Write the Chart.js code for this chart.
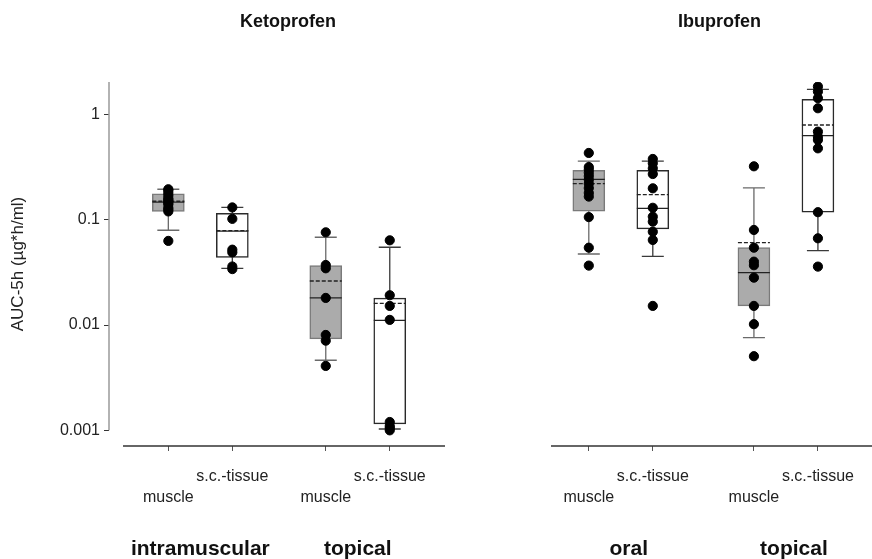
<!DOCTYPE html>
<html>
<head>
<meta charset="utf-8">
<script src="https://cdn.jsdelivr.net/npm/chart.js@4"></script>
<style>
  body { margin: 0; background: #fff; }
  canvas { display: block; }
</style>
</head>
<body>
<canvas id="auc" width="872" height="559"></canvas>
<script>
// AUC 0-5h, log scale. Boxes: quartiles, whiskers, median (solid), mean (dashed)

const DRUGS = ['Ketoprofen', 'Ibuprofen'];
const ROUTES = ['intramuscular', 'topical', 'oral', 'topical'];
const TISSUES = ['muscle', 's.c.-tissue', 'muscle', 's.c.-tissue', 'muscle', 's.c.-tissue', 'muscle', 's.c.-tissue'];

const Q1 = [0.120, 0.044, 0.0074, 0.00115, 0.121, 0.082, 0.0152, 0.118];
const Q3 = [0.176, 0.115, 0.0367, 0.0180, 0.295, 0.295, 0.0543, 1.39];
const MEDIAN = [0.147, 0.078, 0.0181, 0.0111, 0.242, 0.1285, 0.0315, 0.629];
const MEAN = [0.150, 0.079, 0.0262, 0.0161, 0.220, 0.173, 0.0606, 0.795];
const WHISKER_LO = [0.0795, 0.0346, 0.00463, 0.00103, 0.0473, 0.045, 0.0076, 0.0509];
const WHISKER_HI = [0.195, 0.131, 0.0682, 0.0548, 0.36, 0.36, 0.2005, 1.735];

const ketoImMuscle = [0.063, 0.12, 0.125, 0.13, 0.14, 0.145, 0.15, 0.155, 0.16, 0.17, 0.18, 0.19, 0.195];
const ketoImSc = [0.131, 0.102, 0.052, 0.049, 0.036, 0.034];
const ketoTopMuscle = [0.076, 0.0372, 0.0346, 0.0181, 0.00805, 0.00711, 0.00409];
const ketoTopSc = [0.0638, 0.0192, 0.0152, 0.0112, 0.0012, 0.0011, 0.00105, 0.001];
const ibuOralMuscle = [0.431, 0.317, 0.30, 0.28, 0.26, 0.24, 0.22, 0.20, 0.18, 0.166, 0.106, 0.0543, 0.0367];
const ibuOralSc = [0.378, 0.344, 0.308, 0.272, 0.199, 0.130, 0.107, 0.096, 0.077, 0.0643, 0.0152];
const ibuTopMuscle = [0.322, 0.080, 0.0543, 0.040, 0.037, 0.0282, 0.0152, 0.0102, 0.00506];
const ibuTopSc = [1.84, 1.65, 1.43, 1.146, 0.687, 0.615, 0.573, 0.477, 0.118, 0.0667, 0.0359];
const POINTS = [ketoImMuscle, ketoImSc, ketoTopMuscle, ketoTopSc, ibuOralMuscle, ibuOralSc, ibuTopMuscle, ibuTopSc];

const Y_TICKS = [1, 0.1, 0.01, 0.001];

// layout: slot of each box on the x scale, and the two broken x-axis pieces
const SLOT_X = [1, 2, 3.46, 4.46, 7.57, 8.57, 10.15, 11.15];
const AXIS_PIECES = [[0.292, 5.323], [6.979, 11.995]];

const FONT = '"Liberation Sans", Arial, sans-serif';
const isMuscle = i => i % 2 === 0;

const boxFill = TISSUES.map((t, i) => isMuscle(i) ? '#ababab' : '#ffffff');
const boxLine = TISSUES.map((t, i) => isMuscle(i) ? '#7a7a7a' : '#2a2a2a');

const scatterData = [];
POINTS.forEach((arr, i) => arr.forEach(v => scatterData.push({ x: SLOT_X[i], y: v })));

// whiskers, caps, median and mean, drawn right after the boxes
const boxExtras = {
    id: 'boxExtras',
    afterDatasetDraw(chart, args) {
        if (args.index !== 0) return;
        const { ctx } = chart;
        const xs = chart.scales.x, ys = chart.scales.y;
        const half = 16, cap = 11;
        ctx.save();
        SLOT_X.forEach((sx, i) => {
            const x = xs.getPixelForValue(sx);
            const y1 = ys.getPixelForValue(Q1[i]);
            const y3 = ys.getPixelForValue(Q3[i]);
            const lo = ys.getPixelForValue(WHISKER_LO[i]);
            const hi = ys.getPixelForValue(WHISKER_HI[i]);
            ctx.strokeStyle = isMuscle(i) ? '#6a6a6a' : '#3a3a3a';
            ctx.lineWidth = 1.3;
            ctx.setLineDash([]);
            ctx.beginPath();
            ctx.moveTo(x, y3); ctx.lineTo(x, hi);
            ctx.moveTo(x, y1); ctx.lineTo(x, lo);
            ctx.moveTo(x - cap, hi); ctx.lineTo(x + cap, hi);
            ctx.moveTo(x - cap, lo); ctx.lineTo(x + cap, lo);
            ctx.stroke();

            ctx.strokeStyle = '#222';
            ctx.lineWidth = 1.3;
            const ym = ys.getPixelForValue(MEDIAN[i]);
            ctx.beginPath();
            ctx.moveTo(x - half, ym); ctx.lineTo(x + half, ym);
            ctx.stroke();

            ctx.setLineDash([4, 2]);
            const ya = ys.getPixelForValue(MEAN[i]);
            ctx.beginPath();
            ctx.moveTo(x - half, ya); ctx.lineTo(x + half, ya);
            ctx.stroke();
        });
        ctx.restore();
    }
};

// axis lines, panel titles and route labels
const frame = {
    id: 'frame',
    afterDraw(chart) {
        const { ctx, chartArea } = chart;
        const xs = chart.scales.x, ys = chart.scales.y;
        ctx.save();
        // y axis line (ends at the lowest tick)
        ctx.strokeStyle = '#9a9a9a';
        ctx.lineWidth = 1.5;
        ctx.beginPath();
        ctx.moveTo(chartArea.left, chartArea.top);
        ctx.lineTo(chartArea.left, ys.getPixelForValue(Y_TICKS[Y_TICKS.length - 1]));
        ctx.stroke();

        // broken x axis
        ctx.strokeStyle = '#333';
        ctx.lineWidth = 1.5;
        AXIS_PIECES.forEach(([a, b]) => {
            ctx.beginPath();
            ctx.moveTo(xs.getPixelForValue(a), chartArea.bottom);
            ctx.lineTo(xs.getPixelForValue(b), chartArea.bottom);
            ctx.stroke();
        });

        ctx.fillStyle = '#111';
        ctx.textAlign = 'center';
        ctx.textBaseline = 'middle';
        ctx.font = 'bold 18px ' + FONT;
        DRUGS.forEach((d, k) => {
            const [a, b] = AXIS_PIECES[k];
            const cx = (xs.getPixelForValue(a) + xs.getPixelForValue(b)) / 2;
            ctx.fillText(d, cx + 4 + 4 * k, 22);
        });

        ctx.font = 'bold 21px ' + FONT;
        ROUTES.forEach((r, k) => {
            const cx = (xs.getPixelForValue(SLOT_X[2 * k]) + xs.getPixelForValue(SLOT_X[2 * k + 1])) / 2;
            ctx.fillText(r, cx + (k >= 2 ? 8 : 0), 549);
        });
        ctx.restore();
    }
};

new Chart(document.getElementById('auc'), {
    type: 'bar',
    data: {
        datasets: [{
            label: 'box',
            data: SLOT_X.map((sx, i) => ({ x: sx, y: [Q1[i], Q3[i]] })),
            backgroundColor: boxFill,
            borderColor: boxLine,
            borderWidth: 1.5,
            borderSkipped: false,
            barThickness: 32,
            order: 2
        }, {
            type: 'scatter',
            label: 'points',
            data: scatterData,
            backgroundColor: '#000',
            borderColor: '#000',
            pointRadius: 4.6,
            order: 1
        }]
    },
    options: {
        responsive: false,
        animation: false,
        layout: { autoPadding: false, padding: { top: 82, right: 0, left: 0, bottom: 0 } },
        plugins: {
            legend: { display: false },
            tooltip: { enabled: false },
            title: { display: false }
        },
        scales: {
            x: {
                type: 'linear',
                offset: false,
                min: 0.073,
                max: 11.995,
                afterBuildTicks: s => { s.ticks = SLOT_X.map(v => ({ value: v })); },
                afterFit: s => { s.height = 113; },
                ticks: {
                    autoSkip: false,
                    maxRotation: 0,
                    padding: 15,
                    color: '#222',
                    font: { family: FONT, size: 16, lineHeight: 1.3 },
                    callback: (v, i) => isMuscle(i) ? ['', TISSUES[i]] : [TISSUES[i], '']
                },
                grid: { offset: false, drawOnChartArea: false, tickLength: 5, color: '#555' },
                border: { display: false }
            },
            y: {
                type: 'logarithmic',
                min: 0.00071,
                max: 2.035,
                afterBuildTicks: s => { s.ticks = Y_TICKS.map(v => ({ value: v })); },
                afterFit: s => { s.width = 109; },
                ticks: {
                    padding: 4,
                    color: '#222',
                    font: { family: FONT, size: 16 },
                    callback: v => String(v)
                },
                grid: { drawOnChartArea: false, tickLength: 5, color: '#333' },
                border: { display: false },
                title: {
                    display: true,
                    text: 'AUC-5h (µg*h/ml)',
                    color: '#222',
                    font: { family: FONT, size: 17 },
                    padding: { top: 8, bottom: 4 }
                }
            }
        }
    },
    plugins: [boxExtras, frame]
});
</script>
</body>
</html>
